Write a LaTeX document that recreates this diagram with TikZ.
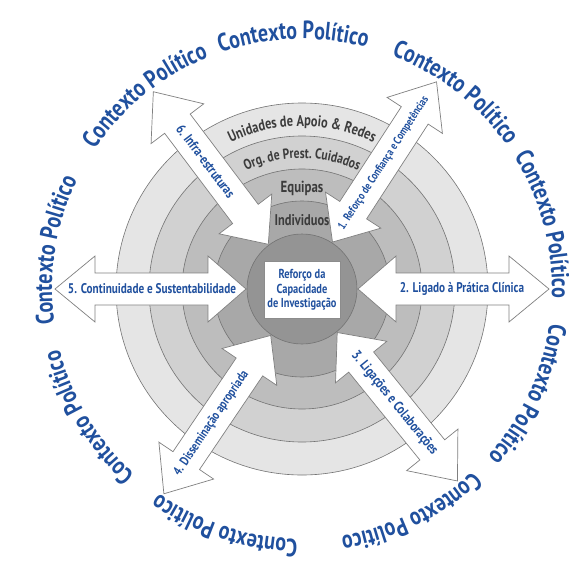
\documentclass[tikz,border=0pt]{standalone}
\usepackage{fontspec}
\newfontfamily\condfont[FakeStretch=0.8]{PT Sans}
\usetikzlibrary{decorations.text}
\definecolor{polblue}{RGB}{32,80,158}
\definecolor{ringtext}{RGB}{60,60,60}

\begin{document}
\begin{tikzpicture}[x=1pt,y=1pt,
    ring/.style={draw=black!55,line width=0.6pt},
    blockarrow/.style={draw=black!50,fill=white,line width=0.7pt,line join=miter},
    arrowlabel/.style={text=polblue,font=\condfont\bfseries\fontsize{14}{14}\selectfont,inner sep=0pt},
    bandlabel/.style={text=ringtext,font=\condfont\bfseries\fontsize{16}{16}\selectfont,inner sep=0pt,anchor=base},
    core/.style={draw=black!45,fill=white,line width=0.6pt,minimum width=75pt,minimum height=57pt,
      align=center,text=polblue,font=\condfont\bfseries\fontsize{13}{14.5}\selectfont}]
  \clip (-302,-274) rectangle (267,289);
  \fill[white] (-302,-274) rectangle (267,289);
  % rings
  \draw[ring,fill=black!10] (0,0) circle (186);
  \draw[ring,fill=black!18] (0,0) circle (153);
  \draw[ring,fill=black!26] (0,0) circle (120);
  \draw[ring,fill=black!34] (0,0) circle (88);
  % ring labels
  \path[decorate,decoration={text along path,text align=center,text color=ringtext,
      text={|\condfont\bfseries\fontsize{15.5}{15.5}\selectfont|Unidades de Apoio {\&} Redes}}]
    (125:163) arc[start angle=125,end angle=55,radius=163];
  \path[decorate,decoration={text along path,text align=center,text color=ringtext,
      text={|\condfont\bfseries\fontsize{14.5}{14.5}\selectfont|Org. de Prest. Cuidados}}]
    (130:131) arc[start angle=130,end angle=50,radius=131];
  \node[bandlabel] (equipas) at (0,97) {Equipas};
  \node[bandlabel,font=\condfont\bfseries\fontsize{15.5}{15.5}\selectfont] (individuos) at (0,64) {Individuos};
  % arrows
  \foreach \ang in {127,57,0,-51,-124,180}
    \draw[blockarrow,rotate=\ang] (56,0) -- (94,33) -- (94,16) -- (207,16) -- (207,33) -- (247,0)
      -- (207,-33) -- (207,-16) -- (94,-16) -- (94,-33) -- cycle;
  \draw[ring,fill=black!42] (0,0) circle (55);
  \node[core] (core) at (0,-1) {Reforço da\\Capacidade\\de Investigação};
  % arrow labels
  \node[arrowlabel,rotate=57,font=\condfont\bfseries\fontsize{11.5}{11.5}\selectfont] (lab1) at (57:150) {1. Reforço de Confiança e Competências};
  \node[arrowlabel] (lab2) at (0:160) {2. Ligado à Prática Clínica};
  \node[arrowlabel,rotate=-51] (lab3) at (-51:147) {3. Ligações e Colaborações};
  \node[arrowlabel,rotate=56,font=\condfont\bfseries\fontsize{13}{13}\selectfont] (lab4) at (-124:162) {4. Disseminação apropriada};
  \node[arrowlabel] (lab5) at (180:150) {5. Continuidade e Sustentabilidade};
  \node[arrowlabel,rotate=-53] (lab6) at (127:160) {6. Infra-estruturas};
  % outer context
  \foreach \ang in {92,52,15,-25,-64,-108,-149,171,129}
    \path[decorate,decoration={text along path,text align=center,text color=polblue,
        text={|\condfont\bfseries\fontsize{25}{25}\selectfont|Contexto Político}}]
      (\ang+22:250) arc[start angle=\ang+22,end angle=\ang-22,radius=250];
\end{tikzpicture}
\end{document}
